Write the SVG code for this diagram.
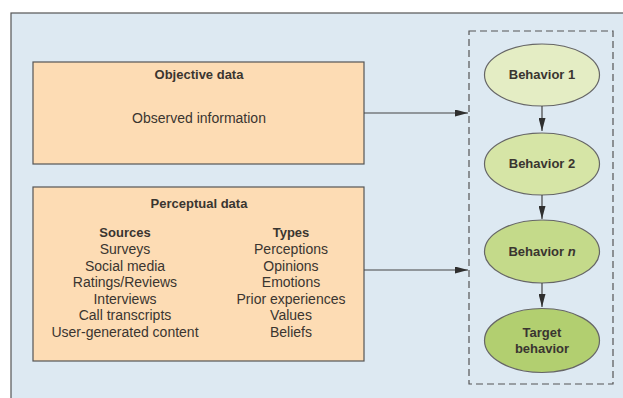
<svg xmlns="http://www.w3.org/2000/svg" width="623" height="398" viewBox="0 0 623 398">
  <defs>
    <marker id="arrow" viewBox="0 0 13 7" refX="13" refY="3.5" markerWidth="13" markerHeight="7" markerUnits="userSpaceOnUse" orient="auto">
      <path d="M0,0 L13,3.5 L0,7 Z" fill="#2f2f2f"/>
    </marker>
    <style>
      .panel { fill: #dde9f2; stroke: #555; stroke-width: 1.2; }
      .box { fill: #fddcb4; stroke: #555; stroke-width: 1.2; }
      .group { fill: none; stroke: #555; stroke-width: 1.2; stroke-dasharray: 7 4; }
      .oval { stroke: #666; stroke-width: 1.2; }
      .edge { fill: none; stroke: #444; stroke-width: 1.2; marker-end: url(#arrow); }
      text { font-family: "Liberation Sans", Arial, sans-serif; fill: #3a3530; text-anchor: middle; }
      .t { font-size: 14px; }
      .b { font-size: 13px; font-weight: bold; }
    </style>
  </defs>

  <rect width="623" height="398" fill="#ffffff"/>
  <rect class="panel" x="11" y="13" width="620" height="400"/>

  <g id="objective-data">
    <rect class="box" x="33" y="62" width="331" height="102"/>
    <text class="b" x="199" y="79">Objective data</text>
    <text class="t" x="199" y="123">Observed information</text>
  </g>

  <g id="perceptual-data">
    <rect class="box" x="33" y="187" width="331" height="174"/>
    <text class="b" x="199" y="208">Perceptual data</text>
    <text class="b" x="125" y="237">Sources</text>
    <text class="t" x="125" y="254">Surveys</text>
    <text class="t" x="125" y="271">Social media</text>
    <text class="t" x="125" y="287">Ratings/Reviews</text>
    <text class="t" x="125" y="304">Interviews</text>
    <text class="t" x="125" y="320">Call transcripts</text>
    <text class="t" x="125" y="337">User-generated content</text>
    <text class="b" x="291" y="237">Types</text>
    <text class="t" x="291" y="254">Perceptions</text>
    <text class="t" x="291" y="271">Opinions</text>
    <text class="t" x="291" y="287">Emotions</text>
    <text class="t" x="291" y="304">Prior experiences</text>
    <text class="t" x="291" y="320">Values</text>
    <text class="t" x="291" y="337">Beliefs</text>
  </g>

  <g id="behavior-chain">
    <rect class="group" x="469" y="31" width="144" height="353"/>
  </g>

  <g id="behavior-1">
    <ellipse class="oval" cx="542" cy="75" rx="57.5" ry="31" fill="#e4edc4"/>
    <text class="b" x="542" y="79">Behavior 1</text>
  </g>

  <g id="behavior-2">
    <ellipse class="oval" cx="542" cy="164" rx="57.5" ry="31" fill="#d6e5a6"/>
    <text class="b" x="542" y="168">Behavior 2</text>
  </g>

  <g id="behavior-n">
    <ellipse class="oval" cx="542" cy="251.5" rx="57.5" ry="31.5" fill="#c4da8a"/>
    <text class="b" x="542" y="256">Behavior <tspan font-style="italic">n</tspan></text>
  </g>

  <g id="target-behavior">
    <ellipse class="oval" cx="542" cy="340.5" rx="57.5" ry="32" fill="#b2cf70"/>
    <text class="b" x="542" y="337">Target</text>
    <text class="b" x="542" y="353">behavior</text>
  </g>

  <g id="connectors">
    <line class="edge" x1="364" y1="113" x2="468" y2="113"/>
    <line class="edge" x1="364" y1="270" x2="468" y2="270"/>
    <line class="edge" x1="542" y1="106" x2="542" y2="131"/>
    <line class="edge" x1="542" y1="195" x2="542" y2="219"/>
    <line class="edge" x1="542" y1="283" x2="542" y2="307"/>
  </g>
</svg>
